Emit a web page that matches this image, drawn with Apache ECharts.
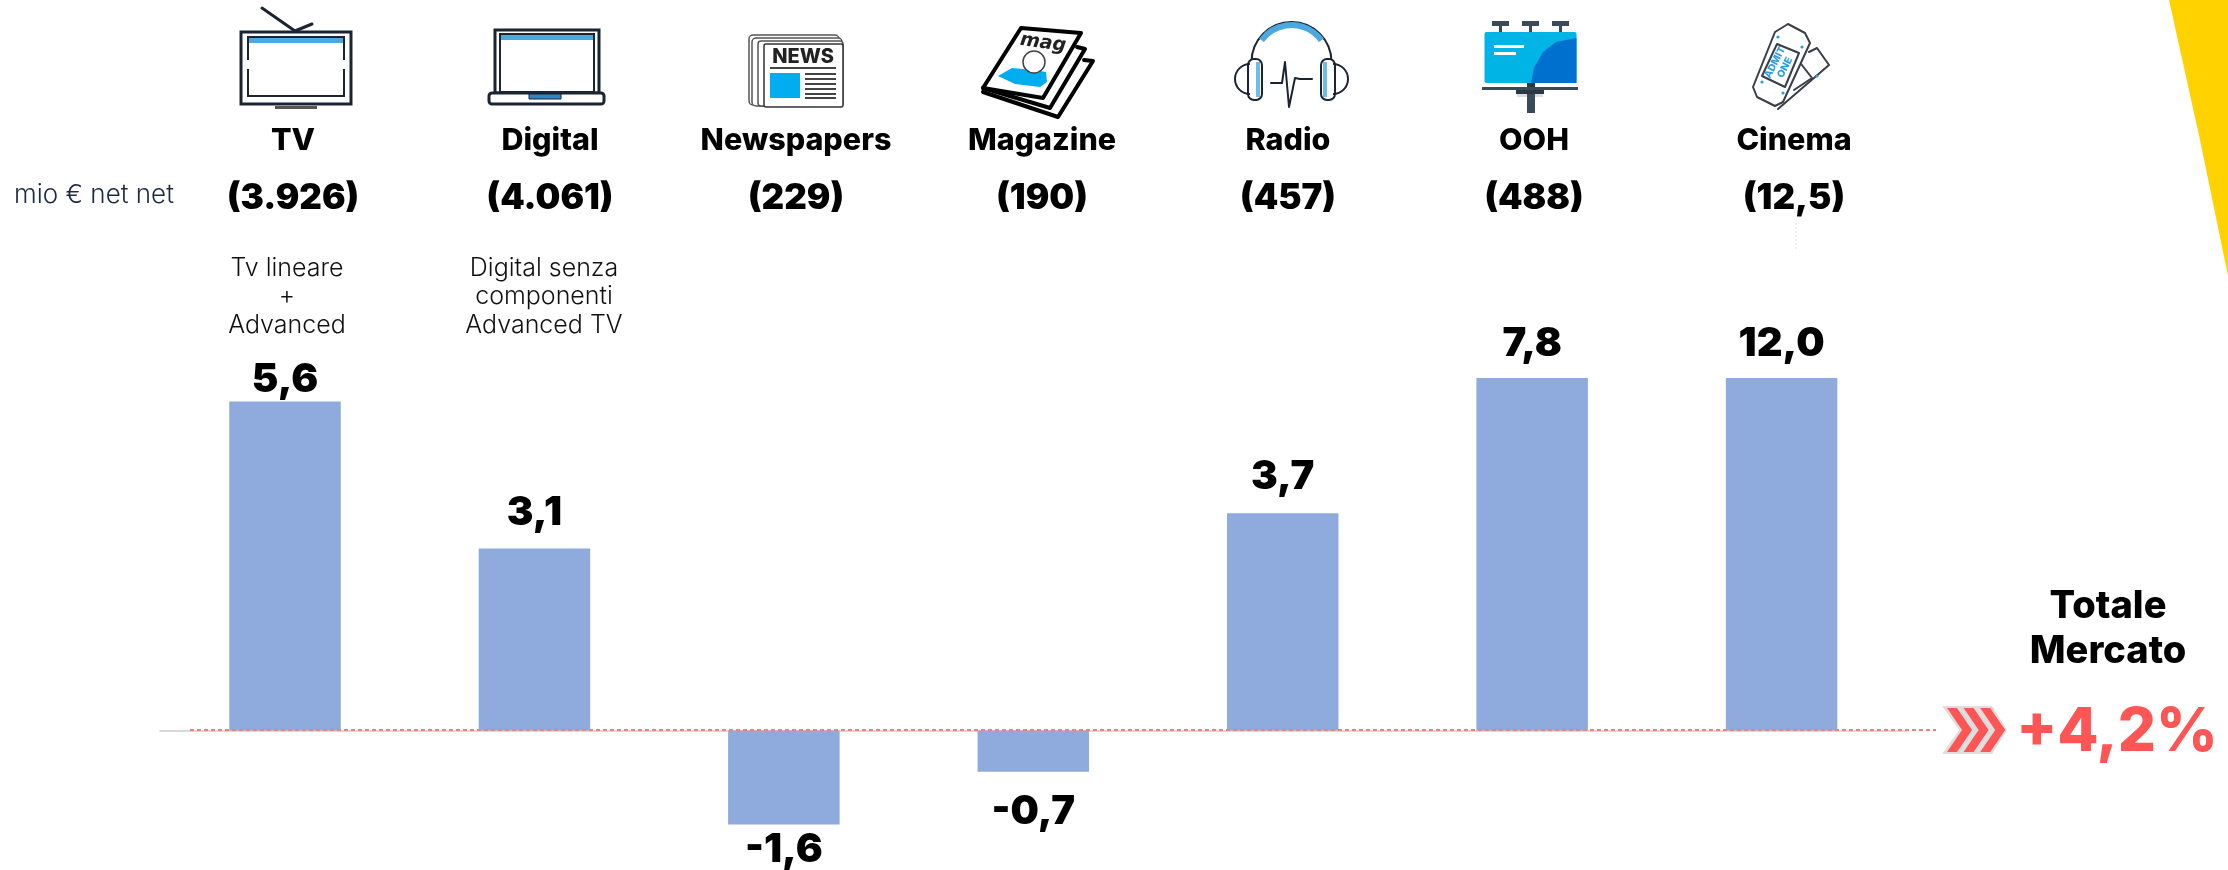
<!DOCTYPE html>
<html><head><meta charset="utf-8">
<style>html,body{margin:0;padding:0;background:#fff}#c{width:2228px;height:870px}</style>
<script src="https://cdn.jsdelivr.net/npm/echarts@6/dist/echarts.min.js"></script>
</head><body><div id="c"></div>
<script>
// ---- data ----
const categories = ['TV','Digital','Newspapers','Magazine','Radio','OOH','Cinema'];
const growth = [5.6,3.1,-1.6,-0.7,3.7,7.8,12.0];
const spendLabels = ['(3.926)','(4.061)','(229)','(190)','(457)','(488)','(12,5)'];
const unitLabel = 'mio € net net';
const totalLabel = ['Totale','Mercato'];
const totalValue = '+4,2%';
const noteTv = ['Tv lineare','+','Advanced'];
const noteDigital = ['Digital senza','componenti','Advanced TV'];
// ---- layout ----
const headerX = [293,550,796,1042,1288,1534,1794];
const labelGap = [2,15,5,20,16,14,14];
const FONT = 'Inter';
const BLUE = '#00AEEF', NAVY = '#1B2433', GREY='#3a3f47';

const g = [];
const txt = (text,x,y,size,weight,fill,extra) => g.push(Object.assign({type:'text',x,y,silent:true,z:10,
  style:{text,fontFamily:FONT,fontSize:size,fontWeight:weight,fill,align:'center',verticalAlign:'middle'}},extra||{}));
const poly = (points,fill,stroke,lw) => g.push({type:'polygon',silent:true,z:5,shape:{points},style:{fill:fill||'none',stroke:stroke||'none',lineWidth:lw||0,lineJoin:'round'}});
const pline = (points,stroke,lw) => g.push({type:'polyline',silent:true,z:5,shape:{points},style:{fill:'none',stroke,lineWidth:lw,lineJoin:'round',lineCap:'round'}});
const rect = (x,y,w,h,fill,stroke,lw,r) => g.push({type:'rect',silent:true,z:5,shape:{x,y,width:w,height:h,r:r||0},style:{fill:fill||'none',stroke:stroke||'none',lineWidth:lw||0}});
const circle = (cx,cy,r,fill,stroke,lw) => g.push({type:'circle',silent:true,z:6,shape:{cx,cy,r},style:{fill:fill||'none',stroke:stroke||'none',lineWidth:lw||0}});

// yellow corner
poly([[2169,0],[2228,0],[2228,276],[2200,140]],'#FFD200');

// header rows
categories.forEach((c,i)=>txt(c,headerX[i],141,30.5,800,'#000'));
spendLabels.forEach((c,i)=>txt(c,headerX[i],198,35,900,'#000'));
txt(unitLabel,94,195,26,300,'#1B2B40');
noteTv.forEach((t,i)=>txt(t,287,268+i*28.5,25,300,'#111'));
noteDigital.forEach((t,i)=>txt(t,544,268+i*28.5,25,300,'#111'));
g.push({type:'line',silent:true,shape:{x1:1796,y1:223,x2:1796,y2:250},style:{stroke:'#ddd',lineWidth:1,lineDash:[2,2]}});

// total
txt(totalLabel[0],2108,607,38,800,'#000');
txt(totalLabel[1],2108,652,38,800,'#000');
txt(totalValue,2117,733,60,800,'#FF5555');
poly([[1942,706],[1992,706],[2007,730],[1992,754],[1942,754],[1959,730]],'#DEDEDE');
[0,16.6,33.2].forEach(d=>poly([[1947+d,708],[1957+d,708],[1972+d,730],[1957+d,752],[1947+d,752],[1962+d,730]],'#FF5555'));

// zero reference line of the total
g.push({type:'line',silent:true,z:7,shape:{x1:190,y1:730,x2:1936,y2:730},style:{stroke:'#F08080',lineWidth:2,lineDash:[4,3]}});

// --- icons ---
// TV
rect(241,32,110,72,'#fff',NAVY,3);
rect(248,37,96,59,'#fff',NAVY,2);
rect(249,38,94,5,'#4BA9DF');
rect(275,106,42,3,'#555');
pline([[262,8],[295,31],[312,24]],NAVY,3);
rect(246,60,4,9,'#fff');rect(342,60,4,9,'#fff');
// Laptop
rect(495,30,104,63,'#fff',NAVY,3);
rect(500,34,94,58,'#fff',NAVY,2);
rect(501,35,92,5,'#4BA9DF');
rect(489,93,115,11,'#fff',NAVY,3,3);
rect(529,94,32,5,'#2F86C5',NAVY,1);
// Newspaper
rect(749,35,90,70,'#fff','#555',1.5,4);
rect(752,38,90,68,'#fff','#555',1.5,4);
rect(758,41,85,65,'#fff','#555',1.5,3);
rect(764,44,79,63,'#fff','#333',1.5,2);
txt('NEWS',803,57,20,800,'#222');
rect(770,67,66,2,'#444');
rect(770,73,30,25,BLUE);
[73,78,83,88,93,97].forEach(y=>rect(805,y,31,2,'#444'));
// Magazine
pline([[983,92],[1058,117],[1093,61],[1084,60]],'#000',4);
pline([[983,88],[1050,108],[1085,49],[1077,47]],'#000',4);
poly([[1021,28],[1081,33],[1043,98],[983,88]],'#fff','#000',4);
g.push({type:'text',x:1043,y:43,rotation:-0.14,silent:true,z:10,style:{text:'mag',fontFamily:'DejaVu Sans',fontStyle:'italic',fontSize:19,fontWeight:800,fill:'#222',align:'center',verticalAlign:'middle'}});
poly([[998,76],[1012,68],[1034,70],[1046,72],[1047,82],[1040,87],[1015,84]],BLUE);
circle(1034,62,11,'#fff','#444',1.5);
// Radio
g.push({type:'arc',silent:true,z:5,shape:{cx:1291.5,cy:62,r:40,startAngle:Math.PI,endAngle:0},style:{fill:'none',stroke:NAVY,lineWidth:2}});
g.push({type:'arc',silent:true,z:6,shape:{cx:1291.5,cy:62,r:37,startAngle:Math.PI*1.2,endAngle:Math.PI*1.8},style:{fill:'none',stroke:'#4BA9DF',lineWidth:6}});
rect(1248,59,14,41,'#fff',NAVY,2,6);
rect(1321,59,14,41,'#fff',NAVY,2,6);
rect(1256,62,4,35,'#6DBDE9');rect(1323,62,4,35,'#6DBDE9');
g.push({type:'arc',silent:true,z:5,shape:{cx:1250,cy:79,r:15,startAngle:Math.PI*0.5,endAngle:Math.PI*1.5},style:{fill:'none',stroke:NAVY,lineWidth:2}});
g.push({type:'arc',silent:true,z:5,shape:{cx:1333,cy:79,r:15,startAngle:-Math.PI*0.5,endAngle:Math.PI*0.5},style:{fill:'none',stroke:NAVY,lineWidth:2}});
pline([[1271,83],[1282,83],[1285,62],[1289,107],[1295,78],[1300,79],[1312,79]],NAVY,2);
// Billboard
[1500,1530,1560].forEach(x=>{rect(x-8,21,17,5,'#3B4A58');rect(x-1,26,3,6,'#3B4A58');});
rect(1484.5,32,92,51,'#00B4E6',null,0,2);
poly([[1531,83],[1534,68],[1543,52],[1556,42],[1576.5,38],[1576.5,83]],'#0070CE');
rect(1494,45,30,3,'#fff');rect(1494,52,22,3,'#fff');
rect(1482,87,96,3,'#3B4A58');
rect(1527,83,8,4,'#2b3742');
rect(1516,90,28,4,'#2b3742');rect(1517,94,26,3,'#ddd');
rect(1527,94,8,19,'#3B4A58');
// Tickets
pline([[1809,52],[1817,48],[1829,65],[1778,109]],GREY,2);
pline([[1798,60],[1812,78],[1794,90]],GREY,2);
poly([[1775,32],[1788,24],[1805,33],[1810,43],[1783,102],[1775,106],[1757,97],[1753,87]],'#fff',GREY,2);
poly([[1777,44],[1799,53],[1785,87],[1762,76]],'#fff',GREY,2);
g.push({type:'text',x:1780,y:65,rotation:1.1,silent:true,z:8,style:{text:'ADMIT\nONE',fontFamily:FONT,fontSize:10,fontWeight:800,lineHeight:11,fill:'#2A9FE0',align:'center',verticalAlign:'middle'}});
[[1778,37],[1802,47],[1762,82],[1783,93],[1817,76]].forEach(p=>circle(p[0],p[1],1.6,'#2A9FE0'));

// ---- chart ----
const barData = growth.map((v,i)=>({value:v,label:{position:v<0?'bottom':'top',distance:labelGap[i]}}));
const chart = echarts.init(document.getElementById('c'));
chart.setOption({
  animation:false,
  backgroundColor:'#fff',
  grid:{left:160.3,width:1746,top:378,height:470,containLabel:false},
  xAxis:{type:'category',data:categories,axisTick:{show:false},axisLabel:{show:false},
    axisLine:{show:true,onZero:true,lineStyle:{color:'#D9D9D9',width:2}}},
  yAxis:{type:'value',min:-2,max:6,show:false,splitLine:{show:false}},
  series:[{type:'bar',data:barData,barWidth:111.5,clip:true,
    itemStyle:{color:'#8FAADC'},
    label:{show:true,fontFamily:FONT,fontSize:40,fontWeight:900,color:'#000',
      formatter:p=>p.value.toFixed(1).replace('.',',')}}],
  graphic:{elements:g}
});
</script></body></html>
